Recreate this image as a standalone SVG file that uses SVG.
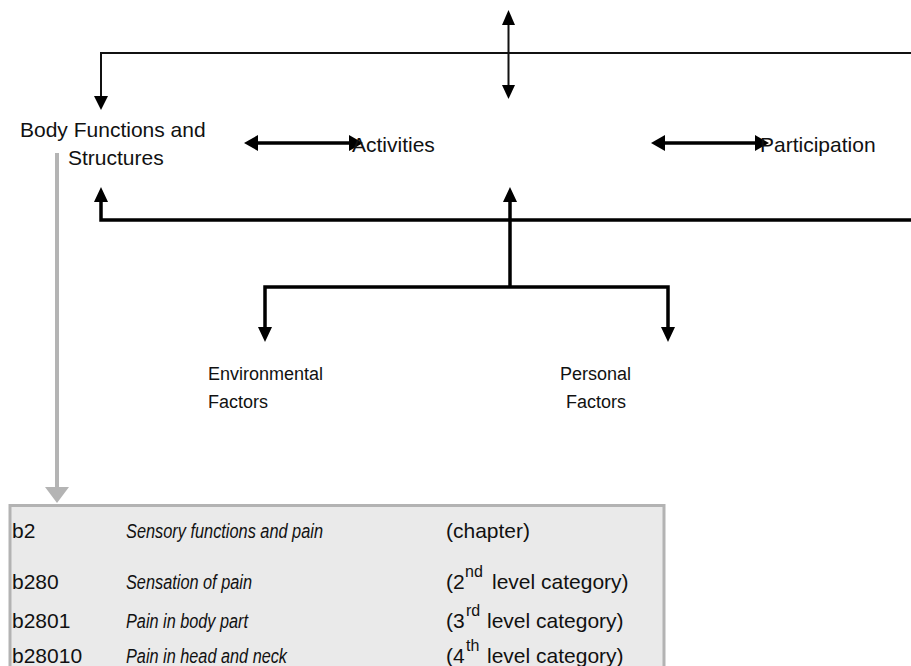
<svg xmlns="http://www.w3.org/2000/svg" width="911" height="666" viewBox="0 0 911 666">
<style>
text{font-family:"Liberation Sans",Arial,sans-serif;fill:#111}
.n{font-size:21px}
.f{font-size:18px}
.t{font-size:21px}
.i{font-size:20px;font-style:italic}
.sup{font-size:16px}
.thin{fill:none;stroke:#111;stroke-width:2}
.thick{fill:none;stroke:#000;stroke-width:3.5}
.ah{fill:#000}
</style>
<rect width="911" height="666" fill="#fff"/>
<g id="connectors">
  <path class="thin" d="M918,97 V53 H101 V97"/>
  <polygon class="ah" points="94,96 108,96 101,110"/>
  <polygon class="ah" points="911,96 925,96 918,110"/>
  <line class="thin" x1="508.5" y1="22" x2="508.5" y2="88"/>
  <polygon class="ah" points="502,25 515,25 508.5,10"/>
  <polygon class="ah" points="502,85 515,85 508.5,99"/>
  <line class="thick" x1="255" y1="143" x2="352" y2="143" stroke-width="3"/>
  <polygon class="ah" points="244,143 258,135 258,151"/>
  <polygon class="ah" points="363,143 349,135 349,151"/>
  <line class="thick" x1="662" y1="143" x2="758" y2="143" stroke-width="3"/>
  <polygon class="ah" points="651,143 665,135 665,151"/>
  <polygon class="ah" points="769,143 755,135 755,151"/>
  <path class="thick" d="M918,202 V220 H101 V200"/>
  <polygon class="ah" points="94,202 108,202 101,187"/>
  <polygon class="ah" points="911,202 925,202 918,187"/>
  <line class="thick" x1="510" y1="287" x2="510" y2="200"/>
  <polygon class="ah" points="503,202 517,202 510,187"/>
  <path class="thick" d="M265,330 V287 H668 V330"/>
  <polygon class="ah" points="258,327 272,327 265,342"/>
  <polygon class="ah" points="661,327 675,327 668,342"/>
  <line x1="57" y1="153" x2="57" y2="490" stroke="#b4b4b4" stroke-width="4"/>
  <polygon points="45,487 69,487 57,503" fill="#b4b4b4"/>
</g>
<g id="body-functions">
  <text class="n" x="20" y="137">Body Functions and</text>
  <text class="n" x="68" y="165">Structures</text>
</g>
<g id="activities">
  <text class="n" x="352" y="152">Activities</text>
</g>
<g id="participation">
  <text class="n" x="760" y="152">Participation</text>
</g>
<g id="environmental-factors">
  <text class="f" x="208" y="380">Environmental</text>
  <text class="f" x="208" y="408">Factors</text>
</g>
<g id="personal-factors">
  <text class="f" x="560" y="380">Personal</text>
  <text class="f" x="566" y="408">Factors</text>
</g>
<g id="classification-table">
  <rect x="10" y="505.5" width="654" height="200" fill="#eaeaea" stroke="#b3b3b3" stroke-width="3"/>
  <text class="t" x="12" y="538">b2</text>
  <text class="i" x="126" y="538" textLength="197" lengthAdjust="spacingAndGlyphs">Sensory functions and pain</text>
  <text class="t" x="446" y="538">(chapter)</text>

  <text class="t" x="12" y="589">b280</text>
  <text class="i" x="126" y="589" textLength="126" lengthAdjust="spacingAndGlyphs">Sensation of pain</text>
  <text class="t" x="446" y="589">(2<tspan class="sup" x="465" y="577">nd</tspan><tspan x="492" y="589">level category)</tspan></text>

  <text class="t" x="12" y="628">b2801</text>
  <text class="i" x="126" y="628" textLength="122" lengthAdjust="spacingAndGlyphs">Pain in body part</text>
  <text class="t" x="446" y="628">(3<tspan class="sup" x="466" y="616">rd</tspan><tspan x="487" y="628">level category)</tspan></text>

  <text class="t" x="12" y="663">b28010</text>
  <text class="i" x="126" y="663" textLength="161" lengthAdjust="spacingAndGlyphs">Pain in head and neck</text>
  <text class="t" x="446" y="663">(4<tspan class="sup" x="466" y="651">th</tspan><tspan x="487" y="663">level category)</tspan></text>
</g>
</svg>
